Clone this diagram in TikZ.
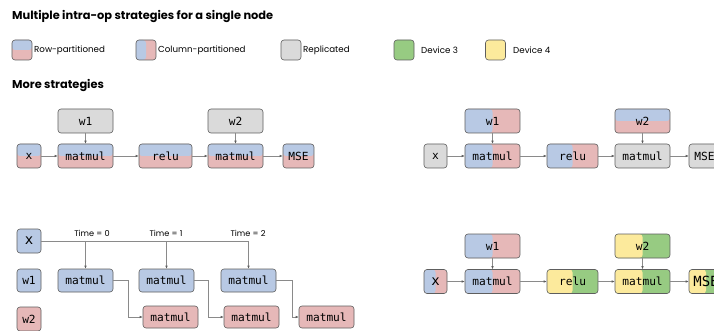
\documentclass[tikz,border=0pt]{standalone}
\usepackage{fontspec}
\setmainfont{Poppins}
\setmonofont{DejaVu Sans Mono}
\usetikzlibrary{arrows.meta}
\definecolor{cblue}{HTML}{B8C9E4}
\definecolor{cred}{HTML}{E6B8B8}
\definecolor{cgray}{HTML}{DADADA}
\definecolor{cgreen}{HTML}{97CB82}
\definecolor{cyellow}{HTML}{FCEA9C}
\definecolor{cborder}{HTML}{5E5E5E}
\definecolor{cline}{HTML}{8A8A8A}
\begin{document}
\begin{tikzpicture}[x=1pt,y=-1pt,
  box/.style={draw=cborder, line width=0.6pt, rounded corners=3pt, inner sep=0pt,
    font=\ttfamily\fontsize{11.2}{11}\selectfont, text=black, minimum height=24pt},
  wide/.style={minimum width=55pt},
  rowp/.style={path picture={
    \fill[cred] (path picture bounding box.south west) rectangle (path picture bounding box.north east);
    \fill[cblue] (path picture bounding box.north west) rectangle (path picture bounding box.east);}},
  colp/.style={path picture={
    \fill[cred] (path picture bounding box.south west) rectangle (path picture bounding box.north east);
    \fill[cblue] (path picture bounding box.south west) rectangle (path picture bounding box.north);}},
  devp/.style={path picture={
    \fill[cgreen] (path picture bounding box.south west) rectangle (path picture bounding box.north east);
    \fill[cyellow] (path picture bounding box.south west) rectangle (path picture bounding box.north);}},
  repl/.style={fill=cgray},
  blue/.style={fill=cblue},
  red/.style={fill=cred},
  big/.style={font=\ttfamily\fontsize{14}{14}\selectfont},
  legbox/.style={draw=cborder, line width=0.6pt, rounded corners=3pt, minimum width=20pt, minimum height=20pt, inner sep=0pt},
  legtext/.style={anchor=west, inner sep=0pt, font=\fontsize{8.7}{10}\selectfont},
  heading/.style={anchor=west, inner sep=0pt, font=\bfseries\fontsize{11.4}{13}\selectfont},
  timelbl/.style={inner sep=0pt, font=\fontsize{8.2}{9}\selectfont},
  conn/.style={draw=cline, line width=0.6pt, -{Latex[length=3pt,width=2.6pt,color=cborder]}},
]
\clip (0,0) rectangle (714,331);
\fill[white] (0,0) rectangle (714,331);

% headings
\node[heading] (h1) at (12,17) {Multiple intra-op strategies for a single node};
\node[heading] (h2) at (12,86) {More strategies};

% legend
\node[legbox, rowp] (l1) at (22,50) {};
\node[legtext] (t1) at (34,50) {Row-partitioned};
\node[legbox, colp] (l2) at (146,50) {};
\node[legtext] (t2) at (158,50) {Column-partitioned};
\node[legbox, repl] (l3) at (291,50) {};
\node[legtext] (t3) at (303,50) {Replicated};
\node[legbox, fill=cgreen] (l4) at (404,50) {};
\node[legtext] (t4) at (421,50) {Device 3};
\node[legbox, fill=cyellow] (l5) at (495.5,50) {};
\node[legtext] (t5) at (513,50) {Device 4};

% diagram 1 (top left)
\node[box, rowp, minimum width=24pt] (ax) at (29,156) {x};
\node[box, rowp, wide] (am1) at (85.5,156) {matmul};
\node[box, repl, wide] (aw1) at (85.5,121) {w1};
\node[box, rowp, minimum width=53pt] (arelu) at (165.5,156) {relu};
\node[box, rowp, wide] (am2) at (235.5,156) {matmul};
\node[box, repl, wide] (aw2) at (235.5,121) {w2};
\node[box, rowp, minimum width=31pt] (amse) at (298.5,156) {MSE};
\draw[conn] (ax) -- (am1);
\draw[conn] (aw1) -- (am1);
\draw[conn] (am1) -- (arelu);
\draw[conn] (arelu) -- (am2);
\draw[conn] (aw2) -- (am2);
\draw[conn] (am2) -- (amse);

% diagram 2 (top right)
\node[box, repl, minimum width=23pt] (bx) at (435.5,156) {x};
\node[box, colp, wide] (bm1) at (492.5,156) {matmul};
\node[box, colp, wide] (bw1) at (492.5,121) {w1};
\node[box, colp, minimum width=51pt] (brelu) at (572.5,156) {relu};
\node[box, repl, wide] (bm2) at (642.5,156) {matmul};
\node[box, rowp, wide] (bw2) at (642.5,121) {w2};
\node[box, repl, minimum width=31pt] (bmse) at (704.5,156) {MSE};
\draw[conn] (bx) -- (bm1);
\draw[conn] (bw1) -- (bm1);
\draw[conn] (bm1) -- (brelu);
\draw[conn] (brelu) -- (bm2);
\draw[conn] (bw2) -- (bm2);
\draw[conn] (bm2) -- (bmse);

% diagram 3 (bottom left)
\node[box, blue, big, minimum width=24pt] (cx) at (29,241) {x};
\node[box, blue, minimum width=24pt, minimum height=23pt] (cw1) at (29,280.5) {w1};
\node[box, red, minimum width=24pt] (cw2) at (29,319) {w2};
\node[box, blue, wide, minimum height=23pt] (cm1) at (85.5,280.5) {matmul};
\node[box, blue, wide, minimum height=23pt] (cm2) at (166.5,280.5) {matmul};
\node[box, blue, wide, minimum height=23pt] (cm3) at (248.5,280.5) {matmul};
\node[box, red, wide, minimum height=22pt] (cb1) at (170.5,317) {matmul};
\node[box, red, wide, minimum height=22pt] (cb2) at (251.5,317) {matmul};
\node[box, red, wide, minimum height=22pt] (cb3) at (326.5,317) {matmul};
\draw[conn] (cx.east) -| (cm3.north);
\draw[conn] (cm1.north |- cx.east) -- (cm1.north);
\draw[conn] (cm2.north |- cx.east) -- (cm2.north);
\node[timelbl] (tm0) at (92,233) {Time = 0};
\node[timelbl] (tm1) at (166,233) {Time = 1};
\node[timelbl] (tm2) at (248,233) {Time = 2};
\draw[conn] (cm1.east) -- ++(15,0) |- (cb1.west);
\draw[conn] (cm2.east) -- ++(14,0) |- (cb2.west);
\draw[conn] (cm3.east) -- ++(16,0) |- (cb3.west);

% diagram 4 (bottom right)
\node[box, colp, big, minimum width=23pt] (dx) at (435.5,281.5) {x};
\node[box, colp, wide] (dm1) at (492.5,281.5) {matmul};
\node[box, colp, wide] (dw1) at (492.5,246) {w1};
\node[box, devp, minimum width=51pt] (drelu) at (572.5,281.5) {relu};
\node[box, devp, wide] (dm2) at (642.5,281.5) {matmul};
\node[box, devp, wide] (dw2) at (642.5,246) {w2};
\node[box, devp, big, minimum width=34pt] (dmse) at (706,281.5) {MSE};
\draw[conn] (dx) -- (dm1);
\draw[conn] (dw1) -- (dm1);
\draw[conn] (dm1) -- (drelu);
\draw[conn] (drelu) -- (dm2);
\draw[conn] (dw2) -- (dm2);
\draw[conn] (dm2) -- (dmse);
\end{tikzpicture}
\end{document}
